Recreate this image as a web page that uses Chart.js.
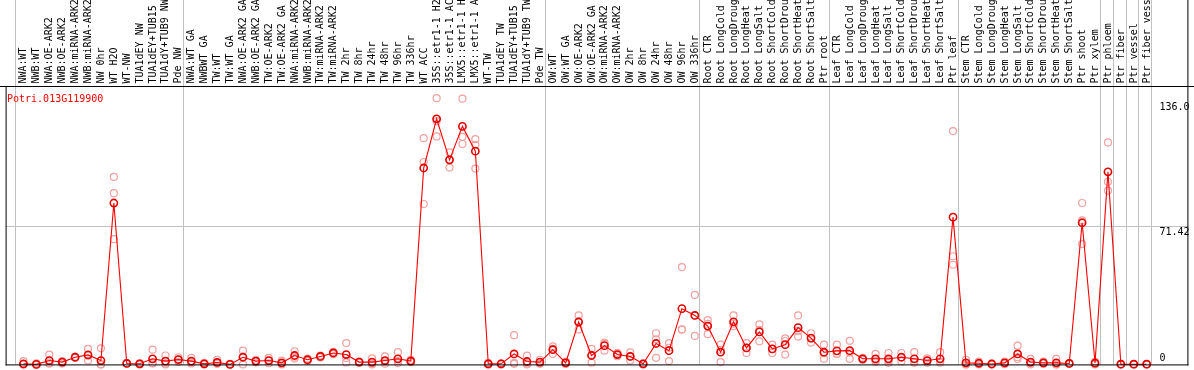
<!DOCTYPE html>
<html>
<head>
<meta charset="utf-8">
<script src="https://cdn.jsdelivr.net/npm/chart.js@4.4.1/dist/chart.umd.min.js"></script>
<style>
html,body{margin:0;padding:0;background:#fff;}
#wrap{width:1194px;height:370px;position:relative;}
canvas{display:block;}
</style>
</head>
<body>
<div id="wrap"><canvas id="c" width="1194" height="370"></canvas></div>
<script>
const geneId = 'Potri.013G119900';
const categories = [
 'NWA:WT','NWB:WT','NWA:OE-ARK2','NWB:OE-ARK2','NWA:miRNA-ARK2','NWB:miRNA-ARK2','NW 0hr','WT H2O','WT-NW',
 'TUA1dEY NW','TUA1dEY+TUB15 NW','TUA1dY+TUB9 NW','Pde NW',
 'NWA:WT GA','NWBWT GA','TW:WT','TW:WT GA','NWA:OE-ARK2 GA','NWB:OE-ARK2 GA','TW:OE-ARK2','TW:OE-ARK2 GA',
 'NWA:miRNA-ARK2 GA','NWB:miRNA-ARK2 GA','TW:miRNA-ARK2','TW:miRNA-ARK2 GA',
 'TW 2hr','TW 8hr','TW 24hr','TW 48hr','TW 96hr','TW 336hr','WT ACC',
 '35S::etr1-1 H2O','35S::etr1-1 ACC','LMX5::etr1-1 H2O','LMX5::etr1-1 ACC','WT-TW',
 'TUA1dEY TW','TUA1dEY+TUB15 TW','TUA1dY+TUB9 TW','Pde TW',
 'OW:WT','OW:WT GA','OW:OE-ARK2','OW:OE-ARK2 GA','OW:miRNA-ARK2','OW:miRNA-ARK2 GA',
 'OW 2hr','OW 8hr','OW 24hr','OW 48hr','OW 96hr','OW 336hr',
 'Root CTR','Root LongCold','Root LongDrought','Root LongHeat','Root LongSalt','Root ShortCold','Root ShortDrought','Root ShortHeat','Root ShortSalt','Ptr root',
 'Leaf CTR','Leaf LongCold','Leaf LongDrought','Leaf LongHeat','Leaf LongSalt','Leaf ShortCold','Leaf ShortDrought','Leaf ShortHeat','Leaf ShortSalt','Ptr leaf',
 'Stem CTR','Stem LongCold','Stem LongDrought','Stem LongHeat','Stem LongSalt','Stem ShortCold','Stem ShortDrought','Stem ShortHeat','Stem ShortSalt',
 'Ptr shoot','Ptr xylem','Ptr phloem','Ptr fiber','Ptr vessel','Ptr fiber vessel'
];
const meanValues = [
 0.3,0.0,2.0,1.2,3.7,4.9,2.0,83.4,0.5,0.3,2.9,1.7,2.5,
 1.7,0.3,1.0,0.0,3.7,1.7,2.0,0.8,4.6,2.4,4.1,5.9,
 5.1,1.2,1.2,2.0,2.9,1.7,101.5,126.9,105.7,123.0,110.2,0.3,0.3,5.4,1.5,1.2,
 7.6,0.8,21.9,4.6,9.7,5.1,4.1,0.3,10.8,7.1,28.8,25.3,
 19.8,6.3,22.0,8.5,16.8,8.0,10.2,19.0,13.6,6.3,
 7.0,7.1,2.9,2.9,2.9,3.7,2.9,2.0,2.9,76.1,
 0.8,0.6,0.2,0.8,5.4,1.2,0.8,0.8,0.5,
 73.2,0.7,99.5,0.1,0.1,0.1
];
const replicate1 = [
 1.7,0.5,5.1,1.7,4.0,8.0,8.3,96.9,0.5,0.5,7.6,4.6,3.7,
 3.4,0.8,2.4,0.3,7.1,2.4,3.4,2.0,6.8,3.0,4.6,6.5,
 11.0,1.5,3.1,4.1,6.3,2.4,116.9,137.6,109.6,137.3,116.4,0.8,0.6,15.1,4.5,2.4,
 9.3,1.5,25.3,8.0,11.3,6.0,6.2,0.6,16.1,11.0,50.3,35.9,
 22.9,10.2,25.3,11.0,20.7,10.2,13.4,25.3,16.1,10.2,
 10.2,12.2,3.4,5.4,5.9,5.9,6.3,3.1,6.3,120.6,
 2.4,1.5,0.4,1.5,9.7,2.9,1.4,2.9,0.7,
 83.4,1.5,114.7,0.2,0.2,0.2
];
const replicate2 = [
 0.0,0.0,0.5,1.2,3.5,4.5,0.0,88.5,0.5,0.3,0.8,0.5,2.5,
 1.2,0.3,1.0,0.0,4.0,1.7,2.0,0.4,4.0,2.4,4.1,5.9,
 3.3,1.2,0.5,1.5,1.7,1.5,104.6,125.7,105.8,117.6,113.4,0.0,0.3,0.8,0.5,1.0,
 8.0,0.8,22.3,5.0,10.6,5.1,4.1,0.3,13.0,8.6,18.1,25.3,
 20.9,7.5,21.0,8.6,17.8,8.0,12.1,17.3,13.4,5.8,
 5.4,6.2,2.9,2.0,2.0,3.7,1.5,2.0,1.5,55.9,
 0.0,0.3,0.2,0.8,3.7,0.7,0.8,0.0,0.5,
 74.4,0.5,94.4,0.1,0.1,0.1
];
const replicate3 = [
 0.0,0.0,0.5,0.5,3.5,2.0,0.0,64.7,0.5,0.0,0.5,0.0,1.2,
 0.5,0.0,0.2,0.0,0.0,1.0,0.6,0.0,3.0,1.8,3.6,5.3,
 1.0,0.9,0.0,0.4,0.7,1.2,82.9,117.8,101.7,113.9,101.2,0.0,0.0,0.3,0.0,0.3,
 5.4,0.2,18.1,0.9,7.1,4.2,2.0,0.0,3.4,1.7,18.0,14.7,
 15.6,1.2,19.8,5.9,11.9,5.9,5.1,14.4,11.3,2.9,
 5.4,2.9,2.4,1.3,0.8,1.5,0.9,0.9,0.9,51.5,
 0.0,0.0,0.0,0.1,2.8,0.0,0.2,0.0,0.3,
 62.2,0.0,89.8,0.0,0.0,0.0
];
const yTickValues = [0, 71.42, 136.0];
const yTickLabels = ['0', '71.42', '136.0'];
const groupEnds = [12, 40, 52, 62, 72, 83, 84, 85, 86, 87];

const FONT = '10px "DejaVu Sans Mono", "Liberation Mono", monospace';
const pts = arr => arr.map((v, i) => ({x: i, y: v}));

const framePlugin = {
  id: 'frame',
  beforeDraw(chart) {
    const ctx = chart.ctx;
    ctx.save();
    ctx.fillStyle = '#ffffff';
    ctx.fillRect(0, 0, chart.width, chart.height);
    ctx.restore();
  },
  beforeDatasetsDraw(chart) {
    const ctx = chart.ctx, xs = chart.scales.x, ys = chart.scales.y, a = chart.chartArea;
    ctx.save();
    ctx.fillStyle = '#c0c0c0';
    const seps = [-0.65].concat(groupEnds.map(g => g + 0.4));
    seps.forEach(v => {
      const px = Math.floor(xs.getPixelForValue(v));
      ctx.fillRect(px, 0, 1, a.bottom);
    });
    const gy = Math.floor(ys.getPixelForValue(yTickValues[1]));
    ctx.fillRect(a.left, gy, a.right - a.left, 1);
    ctx.restore();
  },
  afterDatasetsDraw(chart) {
    const ctx = chart.ctx, xs = chart.scales.x, ys = chart.scales.y, a = chart.chartArea;
    ctx.save();
    ctx.fillStyle = '#000000';
    ctx.fillRect(0, a.top - 2, chart.width, 1);
    ctx.fillRect(a.left, a.bottom, a.right - a.left, 1);
    ctx.fillRect(a.left, a.top - 2, 1, a.bottom - a.top + 3);
    ctx.fillRect(a.right - 1, 0, 1, a.bottom + 1);
    ctx.font = FONT;
    ctx.textAlign = 'left';
    ctx.textBaseline = 'alphabetic';
    categories.forEach((lab, i) => {
      const px = xs.getPixelForValue(i);
      ctx.save();
      ctx.translate(Math.round(px) + 2.5, a.top - 4.5);
      ctx.rotate(-Math.PI / 2);
      ctx.fillText(lab, 0, 0);
      ctx.restore();
    });
    yTickValues.forEach((v, k) => {
      const py = ys.getPixelForValue(v);
      const base = Math.min(py + 8.8, a.bottom - 3);
      ctx.fillText(yTickLabels[k], a.right - 29, base);
    });
    ctx.fillStyle = '#ff0000';
    ctx.fillText(geneId, 7, a.top + 14);
    ctx.restore();
  }
};

const repStyle = {
  type: 'line', showLine: false, pointRadius: 3.5, pointBorderWidth: 1.2,
  pointBorderColor: '#f2a0a0', pointBackgroundColor: 'rgba(0,0,0,0)', clip: false
};

new Chart(document.getElementById('c'), {
  type: 'line',
  data: {
    datasets: [
      { label: 'mean', data: pts(meanValues), borderColor: '#ff0000', borderWidth: 1.1, tension: 0,
        pointRadius: 3.6, pointBorderWidth: 1.6, pointBorderColor: '#e00000',
        pointBackgroundColor: 'rgba(0,0,0,0)', clip: false },
      Object.assign({ label: 'r1', data: pts(replicate1) }, repStyle),
      Object.assign({ label: 'r2', data: pts(replicate2) }, repStyle),
      Object.assign({ label: 'r3', data: pts(replicate3) }, repStyle)
    ]
  },
  options: {
    responsive: false, animation: false, devicePixelRatio: 1,
    layout: { padding: { left: 1, right: 2, top: 88, bottom: 1 } },
    plugins: { legend: { display: false }, tooltip: { enabled: false } },
    scales: {
      x: { type: 'linear', display: false, min: -18 / 13, max: -18 / 13 + 1191 / 13 },
      y: { type: 'linear', display: false, min: 0, max: 142.84 }
    }
  },
  plugins: [framePlugin]
});
</script>
</body>
</html>
